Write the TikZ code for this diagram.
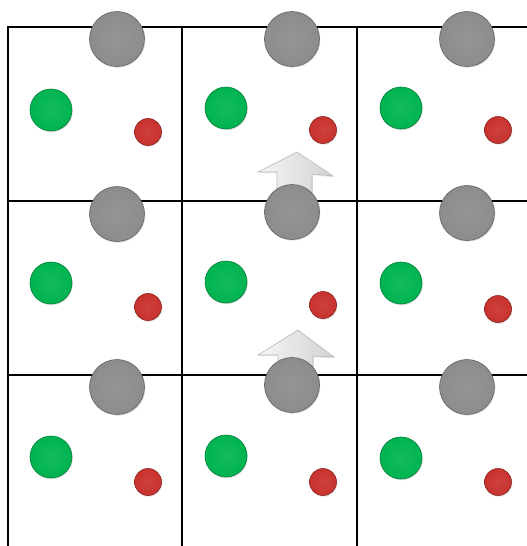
\documentclass[tikz,border=0pt]{standalone}
\usetikzlibrary{shadows}
\definecolor{ballgray}{RGB}{140,140,140}
\definecolor{ballgreen}{RGB}{0,180,80}
\definecolor{ballred}{RGB}{200,50,45}
\begin{document}
\begin{tikzpicture}[x=1pt,y=-1pt,
  gridline/.style={line width=2.4pt,black},
  ball/.style={circle,inner sep=0pt,draw=#1!70!black,line width=0.6pt,
     inner color=#1!92!white,outer color=#1,
     drop shadow={shadow xshift=0.8pt,shadow yshift=-1.2pt,opacity=0.25}},
  bigball/.style={ball=ballgray,minimum size=55pt},
  greenball/.style={ball=ballgreen,minimum size=42pt},
  redball/.style={ball=ballred,minimum size=27pt},
  uparrow/.style={draw=gray!55,line width=0.6pt,left color=gray!8,right color=gray!35,
     drop shadow={shadow xshift=0.8pt,shadow yshift=-1.2pt,opacity=0.2}}]
\useasboundingbox (0,0) rectangle (527,546);
\fill[white] (0,0) rectangle (527,546);
% grid
\coordinate (v1t) at (8,26); \coordinate (v1b) at (8,546);
\coordinate (v2t) at (182,26); \coordinate (v2b) at (182,546);
\coordinate (v3t) at (357,26); \coordinate (v3b) at (357,546);
\coordinate (h1l) at (7,27); \coordinate (h1r) at (527,27);
\coordinate (h2l) at (7,201); \coordinate (h2r) at (527,201);
\coordinate (h3l) at (7,375); \coordinate (h3r) at (527,375);
\draw[gridline] (v1t) -- (v1b);
\draw[gridline] (v2t) -- (v2b);
\draw[gridline] (v3t) -- (v3b);
\draw[gridline] (h1l) -- (h1r);
\draw[gridline] (h2l) -- (h2r);
\draw[gridline] (h3l) -- (h3r);
% arrows
\draw[uparrow] (277,205) -- (277,172) -- (258,172) -- (297,152) -- (333,176) -- (312,174) -- (312,205) -- cycle;
\draw[uparrow] (278,380) -- (278,355) -- (258,355) -- (298,330) -- (334,357) -- (313,356) -- (313,380) -- cycle;
% balls row 1
\node[greenball] (g11) at (51,110) {};
\node[greenball] (g12) at (226,108) {};
\node[greenball] (g13) at (401,108) {};
\node[redball] (r11) at (148,132) {};
\node[redball] (r12) at (323,130) {};
\node[redball] (r13) at (498,130) {};
% row 2
\node[greenball] (g21) at (51,283) {};
\node[greenball] (g22) at (226,282) {};
\node[greenball] (g23) at (401,283) {};
\node[redball] (r21) at (148,307) {};
\node[redball] (r22) at (323,305) {};
\node[redball] (r23) at (498,309) {};
% row 3
\node[greenball] (g31) at (51,457) {};
\node[greenball] (g32) at (226,456) {};
\node[greenball] (g33) at (401,458) {};
\node[redball] (r31) at (148,482) {};
\node[redball] (r32) at (323,482) {};
\node[redball] (r33) at (498,482) {};
% gray balls
\node[bigball] (k11) at (117,39) {};
\node[bigball] (k12) at (292,39) {};
\node[bigball] (k13) at (467,39) {};
\node[bigball] (k21) at (117,214) {};
\node[bigball] (k22) at (292,212) {};
\node[bigball] (k23) at (467,213) {};
\node[bigball] (k31) at (117,387) {};
\node[bigball] (k32) at (292,385) {};
\node[bigball] (k33) at (467,387) {};
\end{tikzpicture}
\end{document}
